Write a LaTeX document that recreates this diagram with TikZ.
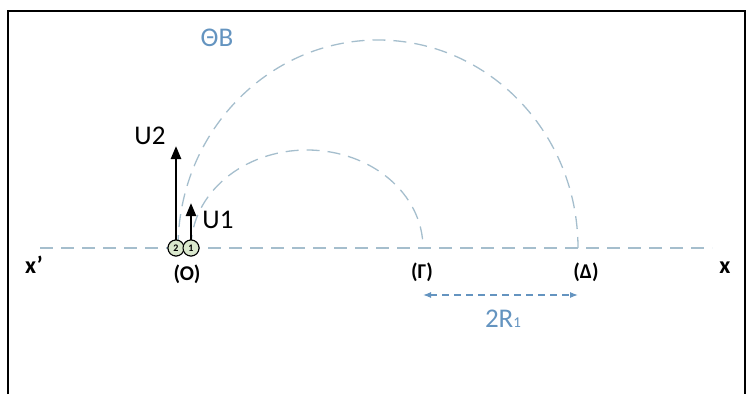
\documentclass[tikz,border=0pt]{standalone}
\usepackage{fontspec}
\setmainfont{Carlito}
\usetikzlibrary{arrows.meta}
\definecolor{guidecol}{RGB}{165,190,205}
\definecolor{labcol}{RGB}{100,148,192}
\definecolor{partfill}{RGB}{218,232,205}
\tikzset{
  guide/.style={draw=guidecol, line width=1.3pt, dash pattern=on 13pt off 8pt},
  vec/.style={draw=black, line width=2.4pt, -{Triangle[length=13pt,width=10pt]}},
  part/.style={circle, draw=black, line width=1pt, fill=partfill, minimum size=16pt, inner sep=0pt, font=\fontsize{10}{10}\selectfont\bfseries},
  blab/.style={font=\fontsize{21}{21}\selectfont\bfseries, inner sep=0pt},
  xlab/.style={font=\fontsize{24}{24}\selectfont\bfseries, inner sep=0pt},
  vlab/.style={font=\fontsize{27}{27}\selectfont, inner sep=0pt},
  blulab/.style={font=\fontsize{27}{27}\selectfont, text=labcol, inner sep=0pt},
}
\begin{document}
\begin{tikzpicture}[x=1pt,y=-1pt]
\useasboundingbox (0,0) rectangle (752,394);
\draw[line width=2pt] (8,394) -- (8,11) -- (745,11) -- (745,394);
% axis
\coordinate (xl) at (40,248);
\coordinate (xr) at (712,248);
\draw[guide] (xl) -- (xr);
% trajectories
\coordinate (s1) at (191,248);
\coordinate (G) at (423,248);
\coordinate (s2) at (178,248);
\coordinate (D) at (578,248);
\draw[guide] (s1) arc[start angle=180, end angle=360, x radius=116, y radius=98];
\draw[guide] (s2) arc[start angle=180, end angle=360, x radius=200, y radius=208];
% particles
\coordinate (u2tip) at (176,146);
\coordinate (u1tip) at (191,203);
\node[part] (p2) at (176,248) {2};
\node[part] (p1) at (191,248) {1};
\draw[vec] (p2.north) -- (u2tip);
\draw[vec] (p1.north) -- (u1tip);
\node[part] at (p2) {2};
\node[part] at (p1) {1};
% labels
\node[vlab] (lu2) at (150,136) {U2};
\node[vlab] (lu1) at (218,220) {U1};
\node[blab] (lO) at (187,274) {(O)};
\node[blab] (lG) at (422,272) {(Γ)};
\node[blab] (lD) at (586,272) {(Δ)};
\node[xlab] (lxp) at (34,265) {x'};
\node[xlab] (lx) at (725,268) {x};
\node[blulab] (lB) at (217,38) {ΘB};
% 2R1
\coordinate (a1) at (423,295);
\coordinate (a2) at (578,295);
\draw[draw=labcol, line width=1.2pt, dash pattern=on 7pt off 5pt, {Latex[length=8pt,width=6pt]}-{Latex[length=8pt,width=6pt]}] (a1) -- (a2);
\node[blulab, anchor=base] (lR) at (503,327) {2R\fontsize{15}{15}\selectfont 1};
\end{tikzpicture}
\end{document}
